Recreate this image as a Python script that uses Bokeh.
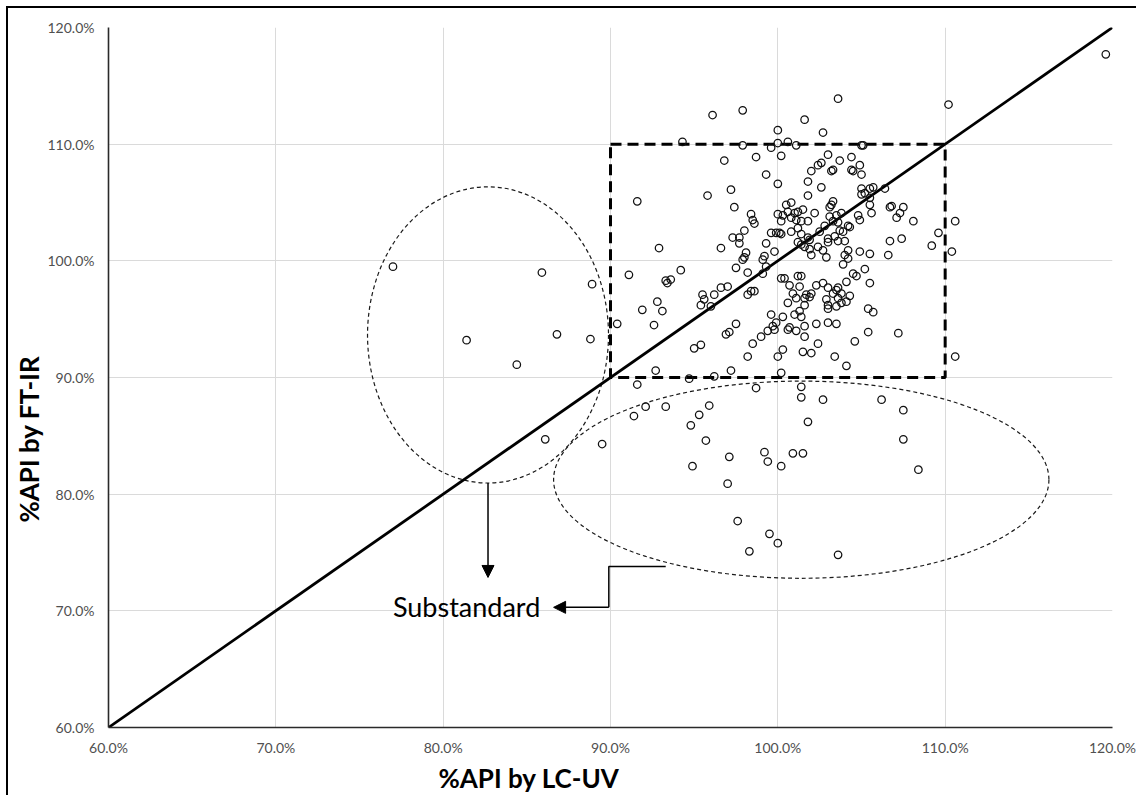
from bokeh.plotting import figure
from bokeh.models import Range1d, FixedTicker, Label, Arrow, NormalHead, Title
from bokeh.embed import file_html
from bokeh.resources import INLINE

# %API measured by the reference method (LC-UV) and by FT-IR, one entry per sample
lc_uv = [
    103.6, 110.2, 96.1, 97.9, 101.6, 102.7, 100.0, 94.3, 97.9, 100.0, 100.6, 101.1, 99.6, 105.0, 105.1,
    95.8, 91.6, 108.1, 110.6, 109.6, 109.2, 110.4, 107.5, 107.3, 107.4, 92.9, 94.2, 96.6, 119.6,
    91.1, 93.3, 93.4, 93.6, 92.8, 93.1, 91.9, 90.4, 92.6, 95.5, 95.4, 95.6, 96.2, 96.0, 96.6,
    99.9, 99.7, 99.4, 99.8, 100.6, 100.7, 101.1, 101.6, 102.3, 103.0, 103.5, 105.4, 107.2, 97.5,
    97.1, 96.9, 99.0, 98.5, 101.6, 102.4, 104.6, 95.0, 95.4, 100.3, 100.0, 98.2, 101.5, 102.0,
    103.4, 110.6, 104.1, 92.7, 97.2, 100.2, 94.7, 96.2, 91.6, 98.7, 101.4, 101.4, 102.7, 106.2,
    107.5, 92.1, 93.3, 95.9, 91.4, 95.3, 94.8, 101.8, 95.7, 107.5,
    77.0, 85.9, 88.9, 81.4, 86.8, 88.8, 84.4, 86.1, 89.5,
    94.9, 97.1, 99.2, 99.4, 100.2, 100.9, 101.5, 108.4, 97.0, 97.6, 99.5, 100.0, 98.3, 103.6,
    96.8, 98.7, 100.2, 103.0, 104.4, 102.6, 102.4, 103.7, 104.9, 102.0, 103.2, 103.3, 104.4, 104.5,
    105.0, 99.3, 100.0, 101.8, 102.6, 97.2, 105.0, 105.5, 105.7, 106.4, 101.8, 105.0, 105.2, 105.5,
    103.3, 103.2, 97.4, 100.5, 100.8, 100.6, 100.0, 100.3, 101.0, 101.2, 101.5, 102.2, 103.1, 103.1,
    103.5, 103.8, 104.8, 105.6, 105.5, 106.7, 106.8, 107.1, 98.4, 98.5, 98.6, 100.2, 100.8, 101.1,
    101.4, 101.8, 102.8, 103.3, 103.6, 104.2, 104.3, 104.9, 98.0, 97.3, 97.7, 99.6, 99.9, 100.1,
    100.2, 100.8, 101.2, 101.4, 101.8, 101.9, 102.5, 103.0, 103.4, 103.7, 103.9, 103.6, 104.0, 97.7,
    99.3, 99.8, 101.2, 101.4, 101.6, 101.9, 102.4, 102.7, 103.0, 104.2, 104.9, 105.5, 106.7, 106.6,
    98.1, 98.0, 97.9, 99.2, 99.1, 102.0, 102.9, 104.0, 104.2, 97.5, 98.2, 99.3, 99.1, 103.9,
    105.2, 104.5, 104.7, 100.2, 100.4, 101.2, 101.4, 100.7, 101.3, 102.3, 102.7, 103.0, 103.6, 103.5,
    104.1, 105.5, 97.0, 98.4, 98.6, 98.2, 100.9, 101.1, 101.6, 101.7, 101.9, 102.0, 103.3, 103.8,
    104.3, 100.6, 101.6, 102.9, 103.0, 103.6, 104.1, 103.8, 105.4, 99.6, 100.3, 101.0, 101.4, 101.3,
    103.0, 103.5, 105.7,
]
ft_ir = [
    113.9, 113.4, 112.5, 112.9, 112.1, 111.0, 111.2, 110.2, 109.9, 110.1, 110.2, 109.9, 109.7, 109.9, 109.9,
    105.6, 105.1, 103.4, 103.4, 102.4, 101.3, 100.8, 104.6, 104.1, 101.9, 101.1, 99.2, 101.1, 117.7,
    98.8, 98.3, 98.1, 98.4, 96.5, 95.7, 95.8, 94.6, 94.5, 97.1, 96.2, 96.7, 97.1, 96.1, 97.7,
    94.7, 94.4, 94.0, 94.1, 94.1, 94.3, 94.0, 94.4, 94.6, 94.7, 94.6, 93.9, 93.8, 94.6,
    93.9, 93.7, 93.5, 92.9, 93.5, 92.9, 93.1, 92.5, 92.8, 92.4, 91.8, 91.8, 92.2, 92.1,
    91.8, 91.8, 91.0, 90.6, 90.6, 90.4, 89.9, 90.1, 89.4, 89.1, 89.2, 88.3, 88.1, 88.1,
    87.2, 87.5, 87.5, 87.6, 86.7, 86.8, 85.9, 86.2, 84.6, 84.7,
    99.5, 99.0, 98.0, 93.2, 93.7, 93.3, 91.1, 84.7, 84.3,
    82.4, 83.2, 83.6, 82.8, 82.4, 83.5, 83.5, 82.1, 80.9, 77.7, 76.6, 75.8, 75.1, 74.8,
    108.6, 108.9, 109.0, 109.1, 108.9, 108.4, 108.2, 108.6, 108.2, 107.7, 107.7, 107.8, 107.8, 107.7,
    107.4, 107.4, 106.6, 106.8, 106.3, 106.1, 106.2, 106.2, 106.3, 106.2, 105.6, 105.7, 105.8, 105.4,
    105.1, 104.8, 104.6, 104.8, 105.0, 104.2, 104.0, 103.9, 104.1, 104.2, 104.4, 104.1, 104.6, 103.8,
    103.9, 104.1, 103.9, 104.1, 104.8, 104.6, 104.7, 103.7, 104.0, 103.5, 103.2, 103.4, 103.7, 103.5,
    103.4, 103.4, 103.0, 103.4, 103.3, 103.0, 102.9, 103.5, 102.6, 102.0, 102.0, 102.4, 102.4, 102.4,
    102.3, 102.5, 102.8, 102.3, 102.0, 101.8, 102.5, 101.9, 102.1, 102.6, 102.5, 101.7, 101.7, 101.5,
    101.5, 100.8, 101.6, 101.4, 101.2, 101.0, 101.2, 100.9, 101.6, 100.9, 100.8, 100.6, 101.7, 100.5,
    100.7, 100.3, 100.1, 100.4, 100.1, 100.5, 100.3, 100.5, 100.2, 99.4, 99.0, 99.5, 98.9, 99.7,
    99.3, 98.9, 98.7, 98.5, 98.5, 98.7, 98.7, 97.9, 97.8, 97.9, 98.1, 97.7, 97.7, 97.5,
    98.2, 98.1, 97.8, 97.4, 97.4, 97.1, 97.2, 96.8, 96.8, 97.1, 96.9, 97.2, 97.2, 97.2,
    97.0, 96.4, 96.2, 96.7, 96.2, 96.8, 96.5, 96.4, 95.9, 95.4, 95.2, 95.4, 95.2, 95.7,
    95.9, 96.1, 95.6,
]

axis_range = [60, 120]
axis_ticks = [60, 70, 80, 90, 100, 110, 120]
tick_labels = ["60.0%", "70.0%", "80.0%", "90.0%", "100.0%", "110.0%", "120.0%"]
spec_limits = [90, 110]

# Dashed outlines around the out-of-specification groups: (x, y, width, height)
left_group = (82.68, 93.65, 14.4, 25.4)
low_group = (101.4, 81.24, 29.6, 16.9)

FONT = "Lato"

p = figure(
    width=1130, height=789,
    x_range=Range1d(*axis_range), y_range=Range1d(*axis_range),
    output_backend="svg", toolbar_location=None,
    min_border_left=100, min_border_right=26, min_border_top=19, min_border_bottom=70,
    background_fill_color="white", border_fill_color="white",
)
p.styles = {
    "margin-left": "6px", "margin-top": "6px",
    "border-left": "2px solid #000000", "border-top": "2px solid #000000",
}
p.outline_line_color = None

for ax in (p.xaxis, p.yaxis):
    ax.ticker = FixedTicker(ticks=axis_ticks)
    ax.major_label_overrides = {t: lab for t, lab in zip(axis_ticks, tick_labels)}
    ax.major_tick_line_color = None
    ax.minor_tick_line_color = None
    ax.major_label_text_font = FONT
    ax.major_label_text_font_size = "14px"
    ax.major_label_text_color = "#505050"
    ax.axis_line_color = "#2a2a2a"
    ax.axis_line_width = 1.6
p.xaxis.major_label_standoff = 5
p.yaxis.major_label_standoff = 8

p.grid.grid_line_color = "#dadada"
p.grid.grid_line_width = 1

# Axis titles, placed off-centre along their axes
p.add_layout(Title(text="%API by LC-UV", align="left", offset=330, standoff=2,
                   text_font=FONT, text_font_size="26px", text_font_style="bold",
                   text_color="black"), "below")
p.add_layout(Title(text="%API by FT-IR", align="left", offset=205, standoff=0,
                   text_font=FONT, text_font_size="26px", text_font_style="bold",
                   text_color="black"), "left")

# Group outlines
p.ellipse(x=[left_group[0], low_group[0]], y=[left_group[1], low_group[1]],
          width=[left_group[2], low_group[2]], height=[left_group[3], low_group[3]],
          fill_color=None, line_color="#1a1a1a", line_width=1.2, line_dash="4 3")

# Line of identity
p.line(x=axis_range, y=axis_range, line_color="black", line_width=2.8)

# Acceptance window 90-110 %
p.quad(left=[spec_limits[0]], right=[spec_limits[1]], bottom=[spec_limits[0]], top=[spec_limits[1]],
       fill_color=None, line_color="black", line_width=3, line_dash="11 6")

p.scatter(x=lc_uv, y=ft_ir, marker="circle", size=7.5,
          fill_color=None, line_color="#111111", line_width=1.25)

# Pointer from the left group down to the label
p.add_layout(Arrow(
    end=NormalHead(size=12, fill_color="black", line_color="black"),
    x_start=left_group[0], y_start=left_group[1] - left_group[3] / 2,
    x_end=left_group[0], y_end=72.86,
    line_color="black", line_width=1.5))

# Elbow connector from the low group to the label
p.line(x=[93.3, 89.9, 89.9], y=[73.8, 73.8, 70.3], line_color="black", line_width=1.5)
p.add_layout(Arrow(
    end=NormalHead(size=12, fill_color="black", line_color="black"),
    x_start=89.9, y_start=70.3, x_end=86.6, y_end=70.3,
    line_color="black", line_width=1.5))

p.add_layout(Label(x=81.4, y=70.37, text="Substandard", text_align="center",
                   text_baseline="alphabetic", text_font=FONT, text_font_size="27px",
                   text_color="black"))

open("out.html", "w").write(file_html(p, INLINE))
